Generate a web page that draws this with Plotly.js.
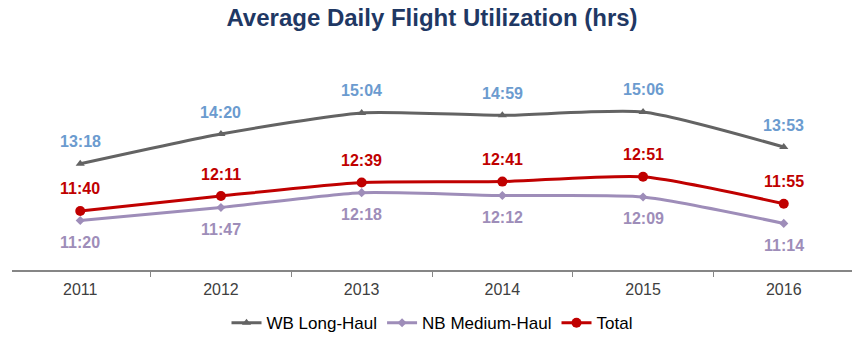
<!DOCTYPE html>
<html><head><meta charset="utf-8">
<script src="https://cdn.plot.ly/plotly-3.0.1.min.js"></script>
<style>html,body{margin:0;padding:0;background:#fff}#c{width:864px;height:340px}</style>
</head><body><div id="c"></div>
<script>
const years = ['2011','2012','2013','2014','2015','2016'];
const wbLabels = ['13:18','14:20','15:04','14:59','15:06','13:53'];
const nbLabels = ['11:20','11:47','12:18','12:12','12:09','11:14'];
const totalLabels = ['11:40','12:11','12:39','12:41','12:51','11:55'];
function toMin(s){const p=s.split(':');return (+p[0])*60+(+p[1]);}
const wb = wbLabels.map(toMin), nb = nbLabels.map(toMin), total = totalLabels.map(toMin);

const traces = [
  {x:years,y:wb,name:'WB Long-Haul',mode:'lines+markers',line:{color:'#636363',width:3,shape:'spline',smoothing:0.6},marker:{symbol:'triangle-up',size:8,color:'#636363'}},
  {x:years,y:nb,name:'NB Medium-Haul',mode:'lines+markers',line:{color:'#9E8DB9',width:3,shape:'spline',smoothing:0.6},marker:{symbol:'diamond',size:7,color:'#9E8DB9'}},
  {x:years,y:total,name:'Total',mode:'lines+markers',line:{color:'#C00000',width:3,shape:'spline',smoothing:0.6},marker:{symbol:'circle',size:10,color:'#C00000'}}
];
const ann = [];
const FF = 'Arial, Liberation Sans, sans-serif';
for (let i=0;i<years.length;i++){
  ann.push({xref:'x',yref:'y',x:i,y:wb[i],text:'<b>'+wbLabels[i]+'</b>',showarrow:false,yshift:22,font:{family:FF,size:16,color:'#6B9BCF'}});
  ann.push({xref:'x',yref:'y',x:i,y:total[i],text:'<b>'+totalLabels[i]+'</b>',showarrow:false,yshift:22,font:{family:FF,size:16,color:'#C00000'}});
  ann.push({xref:'x',yref:'y',x:i,y:nb[i],text:'<b>'+nbLabels[i]+'</b>',showarrow:false,yshift:-22,font:{family:FF,size:16,color:'#9E8DB9'}});
}
const layout = {
  width:864,height:340,margin:{l:12,r:12,t:50,b:70,autoexpand:false},
  paper_bgcolor:'#fff',plot_bgcolor:'#fff',
  font:{family:FF,color:'#404040'},
  title:{text:'<b>Average Daily Flight Utilization (hrs)</b>',x:0.5,xanchor:'center',y:0.947,yanchor:'middle',font:{size:24,color:'#1F3864',family:FF}},
  xaxis:{type:'category',range:[-0.485,5.485],showline:true,linecolor:'#868686',linewidth:1.5,ticks:'outside',tickson:'boundaries',ticklen:5,tickcolor:'#868686',tickfont:{size:16,color:'#404040',family:FF},ticklabelstandoff:4,showgrid:false,zeroline:false},
  yaxis:{range:[577,1035],visible:false,showgrid:false,zeroline:false},
  showlegend:true,
  legend:{orientation:'h',x:0.5,xanchor:'center',y:-0.16,yanchor:'top',font:{size:17,color:'#000',family:FF}},
  annotations:ann
};
Plotly.newPlot('c',traces,layout,{displayModeBar:false});
</script></body></html>
